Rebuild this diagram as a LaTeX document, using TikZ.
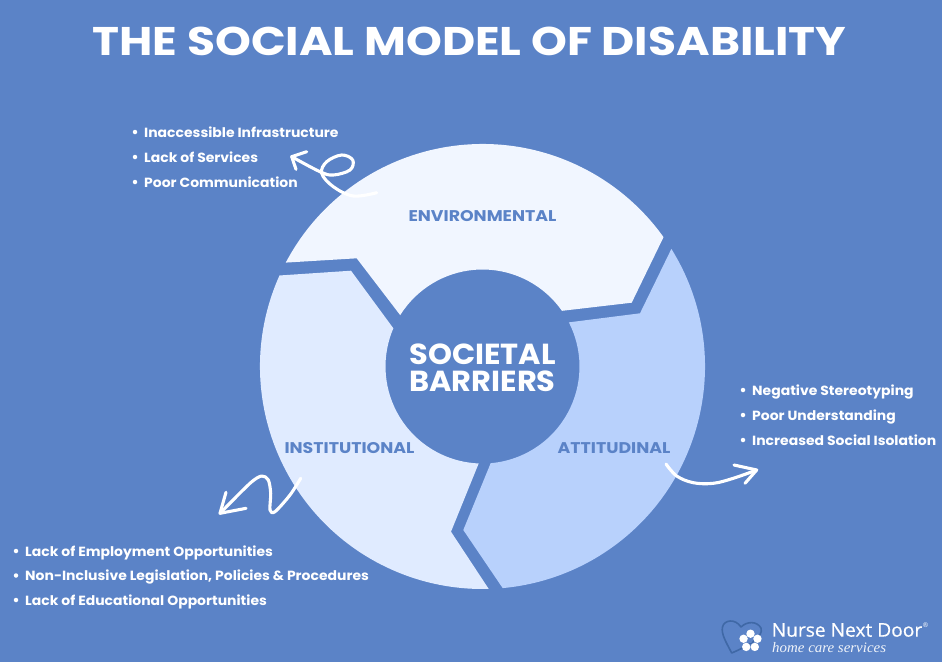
\documentclass[tikz,border=0pt]{standalone}
\usepackage{fontspec}
\setmainfont{Poppins}[BoldFont={Poppins Bold}]
\newfontfamily\logofont{Open Sans}
\newfontfamily\logoserif{Liberation Serif}
\definecolor{bg}{HTML}{5B83C7}
\definecolor{envc}{HTML}{F1F6FF}
\definecolor{instc}{HTML}{E0EBFF}
\definecolor{attc}{HTML}{B8D1FC}
\definecolor{heartc}{HTML}{3F68A6}
\tikzset{
  lbl/.style={font=\bfseries\fontsize{15.5}{15.5}\selectfont\addfontfeature{FakeStretch=1.12},text=bg,inner sep=0pt,anchor=base},
  bul/.style={font=\bfseries\fontsize{13.3}{13.3}\selectfont\addfontfeature{FakeStretch=1.05},text=white,inner sep=0pt,anchor=base west},
  dotb/.style={circle,fill=white,inner sep=0pt,minimum size=4.5pt},
  squig/.style={draw=white,line width=3.1pt,line cap=round,line join=round},
}
\begin{document}
\begin{tikzpicture}[x=1pt,y=-1pt]
\useasboundingbox (0,0) rectangle (942,662);
\fill[bg] (0,0) rectangle (942,662);
\coordinate (C) at (482.5,366.5);
% segments
\fill[envc] ([shift={(152.16:222.5pt)}]C) arc[start angle=152.16,end angle=35.55,radius=222.5pt]
  -- (631.7,302.7) -- ([shift={(35.03:97pt)}]C) arc[start angle=35.03,end angle=148.03,radius=97pt]
  -- (356.7,258.3) -- cycle;
\fill[attc] ([shift={(31.91:222.5pt)}]C) arc[start angle=31.91,end angle=-84.8,radius=222.5pt]
  -- (463.3,530) -- ([shift={(-85.16:97pt)}]C) arc[start angle=-85.16,end angle=27.07,radius=97pt]
  -- (640,313.3) -- cycle;
\fill[instc] ([shift={(155.85:222.5pt)}]C) arc[start angle=155.85,end angle=271.6,radius=222.5pt]
  -- (451,531.7) -- ([shift={(267.75:97pt)}]C) arc[start angle=267.75,end angle=156.8,radius=97pt]
  -- (351,270.7) -- cycle;
% title
\node[inner sep=0pt,text=white,font=\bfseries\fontsize{40}{40}\selectfont\addfontfeature{FakeStretch=1.14}] (title) at (469.5,41) {THE SOCIAL MODEL OF DISABILITY};
% centre
\node[inner sep=0pt,text=white,align=center,font=\bfseries\fontsize{29}{27.5}\selectfont\addfontfeature{FakeStretch=1.05}] (centre) at (482.5,368) {SOCIETAL\\BARRIERS};
% labels
\node[lbl] (env) at (482.5,221) {ENVIRONMENTAL};
\node[lbl] (inst) at (349.5,453) {INSTITUTIONAL};
\node[lbl] (att) at (614,453) {ATTITUDINAL};
% lists
\node[dotb] (a0) at (135,132) {}; \node[bul] (a1) at (144,137) {Inaccessible Infrastructure};
\node[dotb] (b0) at (135,157) {}; \node[bul] (b1) at (144,162) {Lack of Services};
\node[dotb] (c0) at (135,182) {}; \node[bul] (c1) at (144,187) {Poor Communication};
\node[dotb] (d0) at (743,390) {}; \node[bul] (d1) at (752,395) {Negative Stereotyping};
\node[dotb] (e0) at (743,415) {}; \node[bul] (e1) at (752,420) {Poor Understanding};
\node[dotb] (f0) at (743,440) {}; \node[bul] (f1) at (752,445) {Increased Social Isolation};
\node[dotb] (g0) at (16,551) {}; \node[bul] (g1) at (25,556) {Lack of Employment Opportunities};
\node[dotb] (h0) at (16,575.5) {}; \node[bul] (h1) at (25,580.5) {Non-Inclusive Legislation, Policies \& Procedures};
\node[dotb] (i0) at (16,600) {}; \node[bul] (i1) at (25,605) {Lack of Educational Opportunities};
% squiggles
\coordinate (t1) at (376.7,192.7); \coordinate (h1t) at (291.7,156.7);
\draw[squig] plot[smooth,tension=0.6] coordinates {(t1) (353.3,196) (333.3,186.7) (321.7,173.3) (326.7,161.7) (341.7,155) (352.7,160) (350,170) (333.3,175) (320,171.7) (h1t)};
\draw[squig] (306.7,151.7) -- (h1t) -- (296,169.3);
\coordinate (t2) at (300.7,478.3); \coordinate (h2t) at (220,513.3);
\draw[squig] plot[smooth,tension=0.5] coordinates {(t2) (290,495) (275,511.7) (270,510) (270.7,493.3) (268.3,480) (261.7,476) (250,483.3) (h2t)};
\draw[squig] (226,492.3) -- (h2t) -- (246,508.3);
\coordinate (t3) at (666,464); \coordinate (h3t) at (756.7,470);
\draw[squig] plot[smooth,tension=0.6] coordinates {(t3) (676.7,476) (693.3,482.7) (713.3,483.3) (733.3,478.3) (h3t)};
\draw[squig] (734,465) -- (h3t) -- (745,483.3);
% logo
\draw[heartc,line width=1.6pt,line join=round,fill=bg] (731.7,653)
  .. controls (726,642) and (721,634) .. (722.5,627)
  .. controls (724,620) and (735,618) .. (741,627)
  .. controls (747,621) and (757,621) .. (761,628)
  .. controls (764,637) and (748,646) .. cycle;
\foreach \a in {18,90,162,234,306}
  \fill[white] ([shift={(\a:7.3pt)}]750.5,641) circle (4.2pt);
\fill[bg] (750.5,641) circle (2pt);
\node[inner sep=0pt,anchor=west,text=white,font=\logofont\fontsize{18.8}{18.8}\selectfont\addfontfeature{FakeStretch=1.02,FakeBold=0.5}] (nnd) at (771.5,630) {Nurse Next Door};
\node[inner sep=0pt,text=white,font=\logofont\fontsize{6.5}{6.5}\selectfont] (reg) at (925.5,625.5) {®};
\node[inner sep=0pt,anchor=west,text=white!90!bg,font=\logoserif\itshape\fontsize{14.5}{14.5}\selectfont\addfontfeature{FakeStretch=1.03}] (hcs) at (772,647.5) {home care services};
\end{tikzpicture}
\end{document}
